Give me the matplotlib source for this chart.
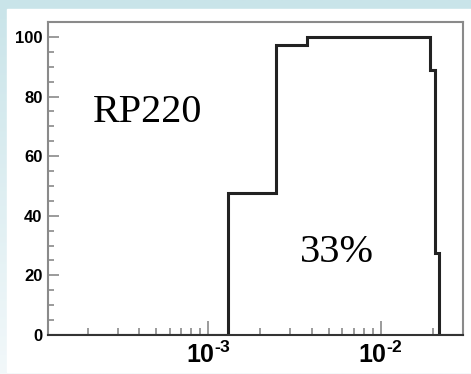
import numpy as np
import matplotlib.pyplot as plt
from matplotlib.colors import LinearSegmentedColormap
from matplotlib.patches import Rectangle
from matplotlib.ticker import FixedLocator, FixedFormatter, LogLocator, NullFormatter, MultipleLocator

plt.rcParams['axes.unicode_minus'] = False
plt.rcParams['mathtext.fontset'] = 'custom'
plt.rcParams['mathtext.rm'] = 'Liberation Sans:bold'
plt.rcParams['mathtext.bf'] = 'Liberation Sans:bold'

# acceptance histogram (bin edges in log x, efficiency in %)
edges = [1.18e-4, 1.31e-3, 2.49e-3, 3.72e-3, 1.92e-2, 2.06e-2, 2.18e-2, 3.0e-2]
acceptance = [0, 47.5, 97.2, 100, 88.8, 27.4, 0]
y_ticks = [0, 20, 40, 60, 80, 100]
x_ticks = [1e-3, 1e-2]
x_labels = [r'$\mathbf{10^{\text{-}3}}$', r'$\mathbf{10^{\text{-}2}}$']

W, H = 471, 374
fig = plt.figure(figsize=(W / 100, H / 100), dpi=100)

# slide-like backdrop: teal strips on top/left, white panel
bg = fig.add_axes([0, 0, 1, 1], zorder=-10)
grad = np.linspace(0, 1, 256).reshape(-1, 1)
bg.imshow(grad, aspect='auto', extent=[0, 1, 0, 1], origin='lower',
          cmap=LinearSegmentedColormap.from_list('slide', ['#f2f8fa', '#c9e4e9']))
bg.add_patch(Rectangle((7 / W, 2 / H), 1, (365 - 2) / H, color='white'))
bg.set_xlim(0, 1)
bg.set_ylim(0, 1)
bg.axis('off')

ax = fig.add_axes([48 / W, 39 / H, 415 / W, 313 / H])
ax.stairs(acceptance, edges, baseline=None, color='#222222', lw=2.2)

ax.set_xscale('log')
ax.set_xlim(edges[0], edges[-1])
ax.set_ylim(0, 105)

ax.xaxis.set_major_locator(FixedLocator(x_ticks))
ax.xaxis.set_major_formatter(FixedFormatter(x_labels))
ax.xaxis.set_minor_locator(LogLocator(base=10, subs=np.arange(2, 10)))
ax.xaxis.set_minor_formatter(NullFormatter())
ax.yaxis.set_major_locator(FixedLocator(y_ticks))
ax.yaxis.set_minor_locator(MultipleLocator(5))

for s in ax.spines.values():
    s.set_color('#8a8a8a')
    s.set_linewidth(1.5)
ax.spines['bottom'].set_color('#333333')

ax.tick_params(axis='both', which='both', direction='in', color='#8a8a8a', width=1.2)
ax.tick_params(axis='x', which='major', length=10, pad=5)
ax.tick_params(axis='x', which='minor', length=5)
ax.tick_params(axis='y', which='major', length=8, pad=4)
ax.tick_params(axis='y', which='minor', length=4)

for lab in ax.get_yticklabels():
    lab.set_fontfamily('Liberation Sans')
    lab.set_fontweight('bold')
    lab.set_fontsize(12)
for lab in ax.get_xticklabels():
    lab.set_fontsize(18)

# labels placed in pixel coordinates of the panel
ax.text(93, H - 121.7, 'RP220', transform=None, fontsize=29,
        family='Liberation Serif', va='baseline')
ax.text(300, H - 261.7, '33%', transform=None, fontsize=29,
        family='Liberation Serif', va='baseline')

fig.savefig('out.png', dpi=100)
